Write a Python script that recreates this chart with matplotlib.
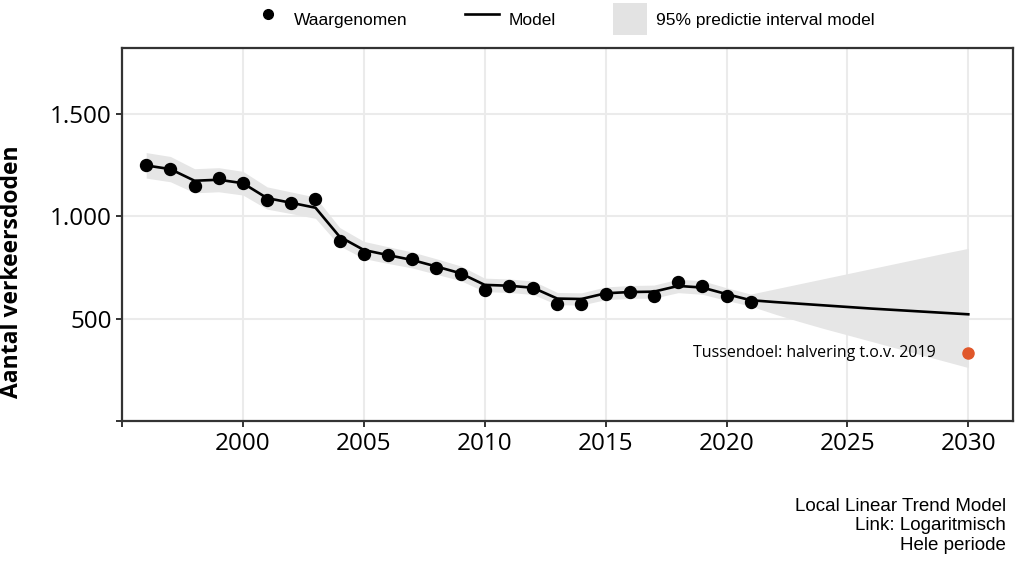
import matplotlib.pyplot as plt
from matplotlib.lines import Line2D
from matplotlib.patches import Patch

# waargenomen aantal verkeersdoden
jaren_obs = list(range(1996, 2022))
doden = [1253, 1235, 1150, 1187, 1166, 1083, 1066, 1088, 881, 817, 811, 791,
         750, 720, 640, 661, 650, 570, 570, 621, 629, 613, 678, 661, 610, 582]

# modelwaarden incl. voorspelling tot 2030
jaren_model = list(range(1996, 2031))
model = [1250, 1232, 1175, 1180, 1163, 1090, 1067, 1043, 901, 836, 811, 787,
         755, 722, 665, 661, 651, 598, 596, 624, 630, 632, 660, 652, 620, 590,
         581, 573, 565, 557, 549, 542, 535, 528, 521]
pi_onder = [1188, 1170, 1116, 1121, 1105, 1036, 1014, 991, 856, 794, 770, 748,
            717, 686, 632, 628, 618, 568, 566, 593, 599, 600, 627, 619, 589, 561,
            522, 486, 452, 420, 388, 356, 324, 292, 260]
pi_boven = [1313, 1294, 1234, 1239, 1221, 1145, 1120, 1095, 946, 878, 852, 826,
            793, 758, 698, 694, 684, 628, 626, 655, 662, 664, 693, 685, 651, 620,
            645, 670, 695, 720, 745, 770, 795, 820, 844]

# tussendoel: halvering t.o.v. 2019
doel_jaar = 2030
doel_waarde = 330.5

def nl_getal(v, pos):
    if v <= 0:
        return ""
    return f"{int(v):,}".replace(",", ".")

fig = plt.figure(figsize=(10.21, 5.61), dpi=100)
ax = fig.add_axes([0.1195, 0.2501, 0.8727, 0.6643])

ax.fill_between(jaren_model, pi_onder, pi_boven, color="#e6e6e6", lw=0, zorder=1)
ax.plot(jaren_model, model, color="black", lw=1.9, zorder=3)
ax.plot(jaren_obs, doden, "o", color="black", ms=8.6, zorder=4)
ax.plot([doel_jaar], [doel_waarde], "o", color="#e0572a", ms=8, zorder=4)
ax.text(doel_jaar - 1.35, doel_waarde, "Tussendoel: halvering t.o.v. 2019",
        ha="right", va="center", fontsize=11.5, family="Open Sans", zorder=5)

ax.set_xlim(1995, 2031.85)
ax.set_ylim(0, 1825)
ax.set_xticks(range(1995, 2031, 5))
ax.set_xticklabels([""] + [str(j) for j in range(2000, 2031, 5)])
ax.set_yticks([0, 500, 1000, 1500])
ax.yaxis.set_major_formatter(plt.FuncFormatter(nl_getal))
ax.grid(True, color="#ebebeb", lw=1.5, zorder=0)
ax.set_axisbelow(True)

for s in ax.spines.values():
    s.set_color("#333333")
    s.set_linewidth(1.6)
ax.tick_params(axis="both", colors="#333333", width=1.4, length=4.5,
               labelcolor="black", labelsize=17.5)
ax.tick_params(axis="x", pad=4)
ax.tick_params(axis="y", pad=3)
for lbl in ax.get_xticklabels() + ax.get_yticklabels():
    lbl.set_family("Open Sans")

ax.set_ylabel("Aantal verkeersdoden", fontsize=16.5, fontweight="bold",
              family="Open Sans")
ax.yaxis.set_label_coords(-0.11, 0.40)

handles = [
    Line2D([], [], ls="none", marker="o", color="black", ms=7),
    Line2D([], [], color="black", lw=1.9),
    Patch(facecolor="#e3e3e3", edgecolor="none"),
]
fig.legend(handles, ["Waargenomen", "Model", "95% predictie interval model"],
           loc="upper center", bbox_to_anchor=(0.551, 1.0), ncol=3,
           frameon=False, prop={"family": "Liberation Sans", "size": 12.5},
           handlelength=2.0, handleheight=2.45, handletextpad=0.5,
           columnspacing=3.3, borderaxespad=0.1, borderpad=0.1)

fig.text(0.985, 0.0624, "Local Linear Trend Model\nLink: Logaritmisch\nHele periode",
         ha="right", va="center", ma="right", fontsize=13.5,
         family="Liberation Sans", linespacing=1.22)

fig.savefig("out.png", dpi=100)
